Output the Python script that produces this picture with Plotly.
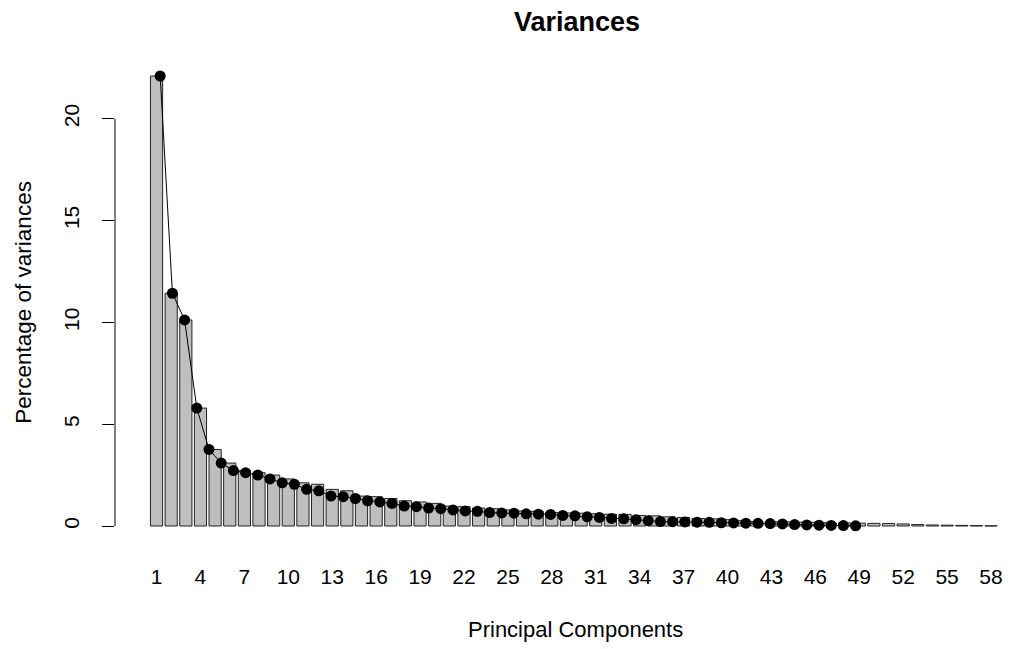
import plotly.graph_objects as go

# Percentage of variance for each principal component
components = list(range(1, 59))
variances = [22.10, 11.43, 10.12, 5.79, 3.76, 3.09, 2.72, 2.62, 2.50, 2.31,
             2.12, 2.05, 1.80, 1.73, 1.47, 1.44, 1.35, 1.24, 1.18, 1.11,
             0.98, 0.95, 0.88, 0.85, 0.79, 0.74, 0.72, 0.66, 0.64, 0.63,
             0.60, 0.58, 0.57, 0.52, 0.50, 0.45, 0.42, 0.37, 0.35, 0.31,
             0.26, 0.22, 0.21, 0.20, 0.19, 0.18, 0.16, 0.15, 0.14, 0.13,
             0.12, 0.10, 0.07, 0.05, 0.04, 0.03, 0.02, 0.01]
label_components = list(range(1, 59, 3))
y_ticks = [0, 5, 10, 15, 20]

# R barplot layout: width 1, space 0.2 -> centre of bar i at 1.2*i - 0.5
bar_x = [1.2 * c - 0.5 for c in components]
label_x = [1.2 * c - 0.5 for c in label_components]

FONT = "Liberation Sans"
OFF = 8  # page body margin offset
W, H = 1014 - OFF, 649 - OFF
ml, mr, mt = 115 - OFF, 0, 58 - OFF
plot_bottom = 544.5 - OFF
mb = H - plot_bottom
pw = W - ml - mr
ph = H - mt - mb

# x scale: user x=0 at screen px 148, 12.2 px per unit
X0, PX = 148.0, 12.2
x_range = [(115 - X0) / PX, (1014 - X0) / PX]


def px_x(x):
    return (x - OFF - ml) / pw


def px_y(y):
    return (plot_bottom - (y - OFF)) / ph


fig = go.Figure()
fig.add_trace(go.Bar(
    x=bar_x, y=variances, width=1,
    marker=dict(color="#bebebe", line=dict(color="#222222", width=1)),
    hoverinfo="y", showlegend=False))
fig.add_trace(go.Scatter(
    x=components, y=variances, mode="lines+markers",
    line=dict(color="black", width=1),
    marker=dict(color="black", size=11),
    showlegend=False))

fig.update_layout(
    width=W, height=H,
    margin=dict(l=ml, r=mr, t=mt, b=mb, pad=0),
    paper_bgcolor="white", plot_bgcolor="white",
    font=dict(family=FONT, size=20, color="black"),
    xaxis=dict(range=x_range, showgrid=False, zeroline=False,
               showline=False, ticks="",
               tickmode="array", tickvals=label_x,
               ticktext=[str(c) for c in label_components],
               tickfont=dict(size=21), ticklabelstandoff=18),
    yaxis=dict(range=[-0.884, 22.984], showgrid=False, zeroline=False,
               showline=False, ticks="outside", ticklen=12,
               tickcolor="black", tickwidth=1,
               tickmode="array", tickvals=y_ticks,
               ticktext=[str(v) for v in y_ticks],
               tickangle=-90, tickfont=dict(size=21),
               ticklabelstandoff=15),
    shapes=[dict(type="line", xref="paper", yref="y", x0=0, x1=0,
                 y0=y_ticks[0], y1=y_ticks[-1],
                 line=dict(color="black", width=1))],
    annotations=[
        dict(text="<b>Variances</b>", xref="paper", yref="paper",
             x=px_x(577), y=px_y(22),
             showarrow=False, font=dict(size=27), xanchor="center",
             yanchor="middle"),
        dict(text="Principal Components", xref="paper", yref="paper",
             x=px_x(575), y=px_y(630),
             showarrow=False, font=dict(size=22), xanchor="center",
             yanchor="middle"),
        dict(text="Percentage of variances", xref="paper", yref="paper",
             x=px_x(24), y=px_y(303),
             showarrow=False, font=dict(size=22.5), textangle=-90,
             xanchor="center", yanchor="middle"),
    ],
)

fig.write_html("out.html")
